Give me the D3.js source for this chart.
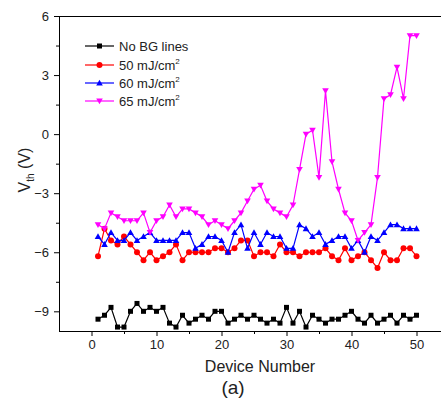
<!DOCTYPE html>
<html><head><meta charset="utf-8">
<script src="https://cdn.jsdelivr.net/npm/d3@7"></script>
<style>body{margin:0;background:#fff;}svg{display:block;font-family:"Liberation Sans",Arial,sans-serif;}</style>
</head><body><svg id="c" width="441" height="401"></svg>
<script>
const devices = d3.range(1, 51);
const noBG = [-9.4,-9.2,-8.8,-9.8,-9.8,-9.0,-8.6,-9.0,-8.8,-9.0,-8.8,-9.6,-9.8,-9.2,-9.6,-9.4,-9.2,-9.4,-9.0,-9.0,-9.6,-9.4,-9.2,-9.4,-9.2,-9.4,-9.6,-9.4,-9.6,-8.8,-9.6,-9.0,-9.8,-9.2,-9.4,-9.6,-9.4,-9.4,-9.2,-9.0,-9.4,-9.6,-9.2,-9.6,-9.4,-9.2,-9.6,-9.2,-9.4,-9.2];
const mj50 = [-6.2,-4.8,-5.4,-5.6,-5.2,-5.6,-6.0,-6.4,-6.0,-6.4,-6.2,-6.0,-5.6,-6.4,-6.0,-6.0,-6.0,-6.0,-5.8,-5.8,-6.0,-5.8,-5.4,-5.4,-6.2,-6.0,-6.0,-6.2,-5.6,-6.0,-6.0,-6.2,-6.0,-6.0,-6.0,-5.8,-6.2,-6.4,-5.8,-6.4,-6.2,-6.0,-6.4,-6.8,-6.0,-6.4,-6.4,-5.8,-5.8,-6.2];
const mj60 = [-5.2,-5.6,-5.0,-5.4,-5.4,-5.0,-5.4,-5.2,-5.0,-5.4,-5.4,-5.4,-5.4,-5.0,-5.0,-5.8,-5.6,-5.2,-5.2,-5.4,-6.0,-5.0,-4.6,-5.8,-5.0,-5.6,-5.0,-5.2,-5.2,-5.8,-5.8,-4.6,-4.8,-5.2,-5.0,-5.6,-5.4,-5.2,-5.2,-5.8,-5.4,-6.0,-5.2,-5.4,-5.0,-4.6,-4.6,-4.8,-4.8,-4.8];
const mj65 = [-4.6,-4.8,-4.0,-4.2,-4.4,-4.4,-4.4,-4.0,-5.0,-4.4,-4.2,-3.6,-4.2,-3.8,-3.8,-4.0,-4.2,-4.6,-4.4,-4.6,-4.8,-4.4,-4.0,-3.4,-2.8,-2.6,-3.4,-3.8,-4.0,-4.2,-3.6,-1.8,0.0,0.2,-2.2,2.2,-1.4,-2.8,-4.0,-4.4,-5.4,-5.0,-4.6,-2.2,1.8,2.0,3.4,1.8,5.0,5.0];
const xTicks = [0,10,20,30,40,50];
const yTicks = [-9,-6,-3,0,3,6];
const seriesNames = ["No BG lines","50 mJ/cm","60 mJ/cm","65 mJ/cm"];
const seriesSup = ["","2","2","2"];
const seriesColors = ["#000000","#ff0000","#0000ff","#ff00ff"];
const seriesShapes = ["square","circle","up","down"];
const seriesData = [noBG, mj50, mj60, mj65];

const svg = d3.select("#c");
const L = 59, T = 16, B = 331;
const x = d3.scaleLinear().domain([-5,55]).range([L, L + 60*6.5]);
const y = d3.scaleLinear().domain([-10,6]).range([B, T]);

// frame: top line
svg.append("line").attr("x1",L).attr("x2",441).attr("y1",T+0.5).attr("y2",T+0.5).attr("stroke","#000").attr("stroke-width",1);

// x axis
const xAx = svg.append("g").attr("transform",`translate(0,${B})`)
  .call(d3.axisBottom(x).tickValues(xTicks).tickSize(5).tickPadding(4).tickFormat(d3.format("d")));
xAx.selectAll("text").attr("font-size",13).attr("fill","#222").attr("font-family","Liberation Sans, Arial");
xAx.select(".domain").attr("d",`M${L},0.5H441`);
svg.append("g").attr("transform",`translate(0,${B})`)
  .call(d3.axisBottom(x).tickValues([5,15,25,35,45]).tickSize(3).tickFormat(""))
  .select(".domain").remove();

// y axis
const yAx = svg.append("g").attr("transform",`translate(${L},0)`)
  .call(d3.axisLeft(y).tickValues(yTicks).tickSize(5).tickPadding(5).tickFormat(d3.format("d")));
yAx.selectAll("text").attr("font-size",13).attr("fill","#222").attr("font-family","Liberation Sans, Arial");
yAx.select(".domain").attr("d",`M0.5,${B}V${T}`);
svg.append("g").attr("transform",`translate(${L},0)`)
  .call(d3.axisLeft(y).tickValues([4.5,1.5,-1.5,-4.5,-7.5]).tickSize(3).tickFormat(""))
  .select(".domain").remove();

// titles
svg.append("text").attr("x",260).attr("y",372).attr("text-anchor","middle").attr("font-size",16).attr("fill","#222").text("Device Number");
svg.append("text").attr("x",233).attr("y",394).attr("text-anchor","middle").attr("font-size",19).attr("fill","#222").text("(a)");
const yt = svg.append("text").attr("transform","translate(30,170) rotate(-90)").attr("text-anchor","middle").attr("font-size",16).attr("fill","#222");
yt.append("tspan").text("V");
yt.append("tspan").attr("font-size",10).attr("dy",4).text("th");
yt.append("tspan").attr("dy",-4).text(" (V)");

function marker(g, shape, color, cx, cy) {
  if (shape === "square") {
    g.append("rect").attr("x",cx-2.5).attr("y",cy-2.5).attr("width",5).attr("height",5).attr("fill",color);
  } else if (shape === "circle") {
    g.append("circle").attr("cx",cx).attr("cy",cy).attr("r",3).attr("fill",color);
  } else if (shape === "up") {
    g.append("path").attr("d",`M${cx},${cy-3.3}L${cx+3.3},${cy+2.5}L${cx-3.3},${cy+2.5}Z`).attr("fill",color);
  } else {
    g.append("path").attr("d",`M${cx},${cy+3.3}L${cx+3.3},${cy-2.5}L${cx-3.3},${cy-2.5}Z`).attr("fill",color);
  }
}

const line = d3.line().x((d,i)=>x(devices[i])).y(d=>y(d));
seriesData.forEach((vals, s) => {
  const g = svg.append("g");
  g.append("path").datum(vals).attr("d",line).attr("fill","none").attr("stroke",seriesColors[s]).attr("stroke-width",1.2);
  vals.forEach((v,i) => marker(g, seriesShapes[s], seriesColors[s], x(devices[i]), y(v)));
});

// legend
const legY = [46, 65, 83, 101];
seriesNames.forEach((n, s) => {
  const g = svg.append("g");
  g.append("line").attr("x1",85).attr("x2",114).attr("y1",legY[s]).attr("y2",legY[s]).attr("stroke",seriesColors[s]).attr("stroke-width",1.2);
  marker(g, seriesShapes[s], seriesColors[s], 99.5, legY[s]);
  const t = g.append("text").attr("x",119).attr("y",legY[s]+4.5).attr("font-size",13).attr("fill","#222").text(n);
  if (seriesSup[s]) t.append("tspan").attr("font-size",8).attr("dy",-6).text(seriesSup[s]);
});
</script></body></html>
